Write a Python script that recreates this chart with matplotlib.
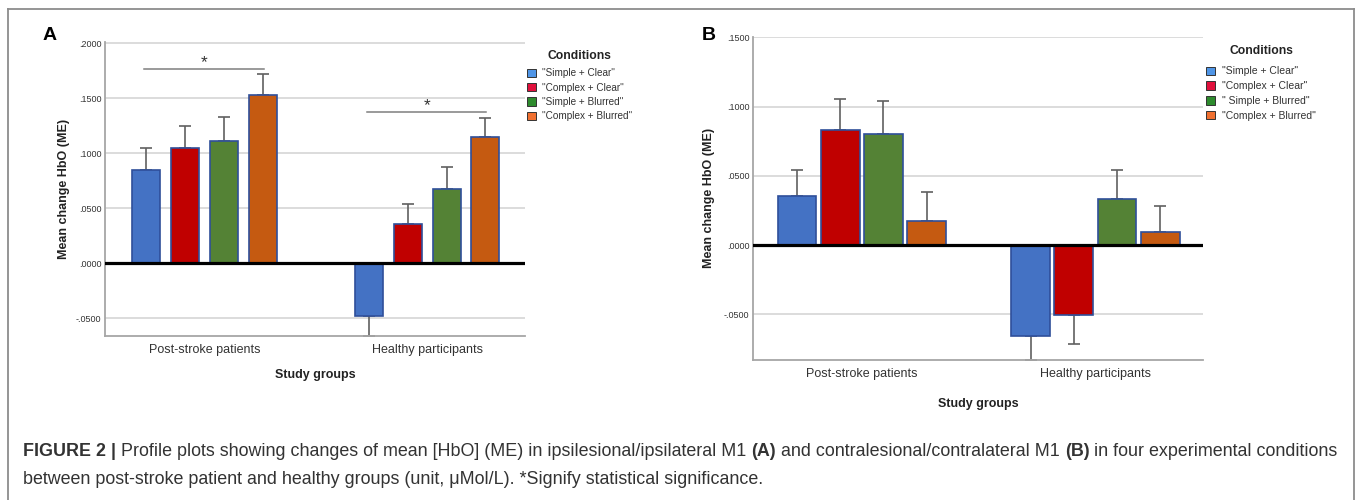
import matplotlib
matplotlib.use("Agg")
import matplotlib.pyplot as plt
from matplotlib.patches import Patch
from matplotlib.lines import Line2D
import numpy as np

# ---------------- data ----------------
groups = ["Post-stroke patients", "Healthy participants"]

legend_a = ['"Simple + Clear"', '"Complex + Clear"', '"Simple + Blurred"', '"Complex + Blurred"']
legend_b = ['"Simple + Clear"', '"Complex + Clear"', '" Simple + Blurred"', '"Complex + Blurred"']

# Panel A (ipsilesional / ipsilateral M1): means and error magnitudes
a_simple_clear = [0.0848, -0.0480]
a_complex_clear = [0.1045, 0.0357]
a_simple_blurred = [0.1113, 0.0680]
a_complex_blurred = [0.1530, 0.1150]
a_simple_clear_err = [0.0197, 0.0180]
a_complex_clear_err = [0.0200, 0.0183]
a_simple_blurred_err = [0.0217, 0.0195]
a_complex_blurred_err = [0.0190, 0.0170]

# Panel B (contralesional / contralateral M1)
b_simple_clear = [0.0356, -0.0657]
b_complex_clear = [0.0830, -0.0503]
b_simple_blurred = [0.0804, 0.0330]
b_complex_blurred = [0.0171, 0.0092]
b_simple_clear_err = [0.0183, 0.0173]
b_complex_clear_err = [0.0226, 0.0208]
b_simple_blurred_err = [0.0234, 0.0212]
b_complex_blurred_err = [0.0210, 0.0188]

yticks_a = [-0.05, 0.0, 0.05, 0.10, 0.15, 0.20]
yticks_b = [-0.05, 0.0, 0.05, 0.10, 0.15]
ytick_labels_a = ["-.0500", ".0000", ".0500", ".1000", ".1500", ".2000"]
ytick_labels_b = ["-.0500", ".0000", ".0500", ".1000", ".1500"]

# significance brackets (panel A): group index, y level
sig_groups = [0, 1]
sig_levels = [0.177, 0.1375]

# ---------------- style ----------------
bar_colors = ["#4472C4", "#C00000", "#548235", "#C55A11"]
legend_colors = ["#4F95E6", "#E0103C", "#2E8B2E", "#F07030"]
edge_col = "#2F4F9A"
narrow = ["Liberation Sans Narrow", "Liberation Sans", "DejaVu Sans"]
sans = ["Liberation Sans", "DejaVu Sans"]
plt.rcParams["font.family"] = sans

W, H = 1357, 500
fig = plt.figure(figsize=(W / 100, H / 100), dpi=100)
fig.patch.set_facecolor("white")


def fx(px):
    return px / W


def fy(py):
    return 1 - py / H


def draw_panel(ax, series, errs, offsets, width, yticks, ylabels, ylim, xlim):
    x = np.arange(len(groups))
    ax.set_xlim(*xlim)
    ax.set_ylim(*ylim)
    ax.set_yticks(yticks)
    ax.set_yticklabels(ylabels, fontfamily=narrow, fontsize=6.5, color="#333333")
    ax.yaxis.grid(True, color="#D9D9D9", lw=1.3)
    ax.set_axisbelow(True)
    for i, (vals, er) in enumerate(zip(series, errs)):
        vals = np.array(vals)
        er = np.array(er)
        xs = x + offsets[i]
        ax.bar(xs, vals, width=width, color=bar_colors[i], edgecolor=edge_col,
               linewidth=1.2, zorder=3)
        lower = np.where(vals < 0, er, 0)
        upper = np.where(vals >= 0, er, 0)
        ax.errorbar(xs, vals, yerr=[lower, upper], fmt="none", ecolor="#606060",
                    elinewidth=1.2, capsize=4, capthick=1.2, zorder=2, clip_on=False)
    ax.axhline(0, color="black", lw=2.3, zorder=4)
    ax.set_xticks(x)
    ax.set_xticklabels(groups, fontfamily=narrow, fontsize=9, color="#333333")
    ax.tick_params(axis="both", length=0)
    ax.tick_params(axis="x", pad=6)
    ax.tick_params(axis="y", pad=3)
    for s in ["top", "right"]:
        ax.spines[s].set_visible(False)
    for s in ["left", "bottom"]:
        ax.spines[s].set_color("#A6A6A6")
        ax.spines[s].set_linewidth(1.3)
    ax.set_xlabel("Study groups", fontweight="bold", fontsize=9, color="#222222")
    ax.set_ylabel("Mean change HbO (ME)", fontweight="bold", fontsize=9, color="#222222")


def add_legend(ax, labels, top_px, left_px, fs, spacing):
    leg = ax.legend(handles=[Patch(facecolor=c, edgecolor="#333333", lw=0.7) for c in legend_colors],
                    labels=labels, loc="upper left",
                    bbox_to_anchor=(fx(left_px), fy(top_px)), bbox_transform=fig.transFigure,
                    frameon=False, fontsize=fs, handlelength=0.9, handleheight=0.9,
                    handletextpad=0.7, labelspacing=spacing, borderpad=0, borderaxespad=0)
    for t in leg.get_texts():
        t.set_color("#333333")
    return leg


# ---------- Panel A ----------
axA = fig.add_axes([fx(105.4), fy(336), fx(524.7) - fx(105.4), (336 - 42.2) / H])
offA = [(i - 1.5) * 0.174 for i in range(4)]
draw_panel(axA,
           [a_simple_clear, a_complex_clear, a_simple_blurred, a_complex_blurred],
           [a_simple_clear_err, a_complex_clear_err, a_simple_blurred_err, a_complex_blurred_err],
           offA, 0.126, yticks_a, ytick_labels_a, (-0.066, 0.201), (-0.445, 1.438))
axA.xaxis.set_label_coords(0.5, -0.112)
axA.yaxis.set_label_coords(-0.085, 0.5)
for g, lvl in zip(sig_groups, sig_levels):
    axA.plot([g - 0.27, g + 0.265], [lvl, lvl], color="#7F7F7F", lw=1.1, zorder=3)
    axA.text(g, lvl + 0.0015, "*", ha="center", va="baseline", fontsize=12.5,
             color="#333333")

add_legend(axA, legend_a, 68.5, 526.5, 7.2, 0.42)
fig.text(fx(579), fy(55.7), "Conditions", fontsize=8.7, fontweight="bold",
         ha="center", va="center", color="#222222")

# ---------- Panel B ----------
axB = fig.add_axes([fx(753.4), fy(360), fx(1203.3) - fx(753.4), (360 - 36.6) / H])
offB = [(i - 1.5) * 0.185 for i in range(4)]
draw_panel(axB,
           [b_simple_clear, b_complex_clear, b_simple_blurred, b_complex_blurred],
           [b_simple_clear_err, b_complex_clear_err, b_simple_blurred_err, b_complex_blurred_err],
           offB, 0.166, yticks_b, ytick_labels_b, (-0.083, 0.1505), (-0.464, 1.462))
axB.xaxis.set_label_coords(0.5, -0.116)
axB.yaxis.set_label_coords(-0.086, 0.5)

add_legend(axB, legend_b, 66.5, 1205.5, 7.5, 0.45)
fig.text(fx(1261), fy(50.7), "Conditions", fontsize=8.7, fontweight="bold",
         ha="center", va="center", color="#222222")

# panel letters
fig.text(fx(50), fy(36), "A", fontsize=14, fontweight="bold", ha="center", va="center")
fig.text(fx(709), fy(36), "B", fontsize=14, fontweight="bold", ha="center", va="center")

# frame
frame_col = "#8C8C8C"
fig.add_artist(Line2D([fx(7.7), fx(7.7)], [fy(9), 0], color=frame_col, lw=1.3))
fig.add_artist(Line2D([fx(1353.5), fx(1353.5)], [fy(9), 0], color=frame_col, lw=1.3))
fig.add_artist(Line2D([fx(7.7), fx(1353.5)], [fy(9), fy(9)], color=frame_col, lw=1.3))

# caption with mixed weights
cap_col = "#333333"
line1 = [("FIGURE 2 |", "bold"),
         (" Profile plots showing changes of mean [HbO] (ME) in ipsilesional/ipsilateral M1 ", "normal"),
         ("(A)", "bold"),
         (" and contralesional/contralateral M1 ", "normal"),
         ("(B)", "bold"),
         (" in four experimental conditions", "normal")]
line2 = [("between post-stroke patient and healthy groups (unit, \u03bcMol/L). *Signify statistical significance.", "normal")]

fig.canvas.draw()
renderer = fig.canvas.get_renderer()


def draw_line(parts, x0, ybase, size):
    x = x0
    made = []
    for txt, wt in parts:
        t = fig.text(x, ybase, txt, fontsize=size, fontweight=wt, color=cap_col,
                     ha="left", va="baseline")
        bb = t.get_window_extent(renderer=renderer)
        x = x + bb.width / W
        made.append(t)
    return made, (x - x0) * W


# measure line 1 at a trial size, then fit to reference width
trial, wpx = draw_line(line1, fx(23), fy(456), 10.0)
for t in trial:
    t.remove()
cap_size = 10.0 * 1314.0 / wpx
draw_line(line1, fx(23), fy(456), cap_size)
draw_line(line2, fx(23), fy(484), cap_size)

fig.savefig("out.png", dpi=100, facecolor="white")
